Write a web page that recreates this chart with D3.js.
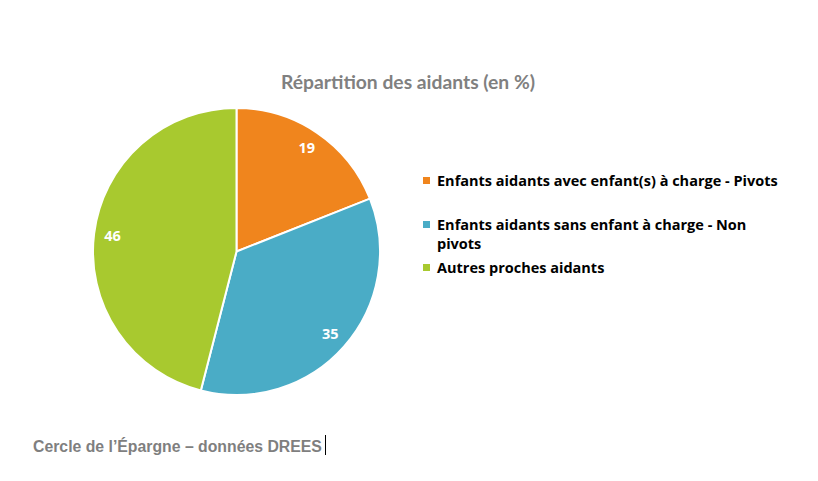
<!DOCTYPE html>
<html>
<head>
<meta charset="utf-8">
<script src="https://cdn.jsdelivr.net/npm/d3@7"></script>
<style>
  body { margin: 0; background: #fff; }
  svg { display: block; }
</style>
</head>
<body>
<svg id="chart" width="818" height="481"></svg>
<script>
const categories = ['Enfants aidants avec enfant(s) à charge - Pivots',
    'Enfants aidants sans enfant à charge - Non pivots',
    'Autres proches aidants']
const values = [19, 35, 46]
const colors = ['#f0851d', '#4aacc6', '#a8c92f']
const legendLines = [['Enfants aidants avec enfant(s) à charge - Pivots'],
    ['Enfants aidants sans enfant à charge - Non', 'pivots'],
    ['Autres proches aidants']]

const svg = d3.select('#chart')
const cx = 236.5
const cy = 251.5
const radius = 143.5

svg.append('text')
    .attr('x', 408)
    .attr('y', 89)
    .attr('text-anchor', 'middle')
    .attr('font-family', 'Lato, sans-serif')
    .attr('font-weight', 'bold')
    .attr('font-size', 19.3)
    .attr('fill', '#808080')
    .text('Répartition des aidants (en %)')

const pie = d3.pie().sort(null).value(d => d)
const arc = d3.arc().innerRadius(0).outerRadius(radius)
const labelArc = d3.arc().innerRadius(125).outerRadius(125)

const g = svg.append('g').attr('transform', `translate(${cx},${cy})`)

const slices = pie(values)

g.selectAll('path')
    .data(slices)
    .enter()
    .append('path')
    .attr('d', arc)
    .attr('fill', (_, i) => colors[i])
    .attr('stroke', '#fff')
    .attr('stroke-width', 2)

g.selectAll('text')
    .data(slices)
    .enter()
    .append('text')
    .attr('transform', d => `translate(${labelArc.centroid(d)})`)
    .attr('text-anchor', 'middle')
    .attr('dy', '0.35em')
    .attr('font-family', '"Open Sans", sans-serif')
    .attr('font-weight', 'bold')
    .attr('font-size', 14.5)
    .attr('fill', '#fff')
    .text(d => d.value)

// legende
const rowY = [181, 225, 268]
const legend = svg.append('g')

const items = legend.selectAll('g')
    .data(categories)
    .enter()
    .append('g')
    .attr('transform', (_, i) => `translate(423,${rowY[i]})`)

items.append('rect')
    .attr('x', 0)
    .attr('y', -4)
    .attr('width', 7)
    .attr('height', 7)
    .attr('fill', (_, i) => colors[i])

items.append('text')
    .attr('x', 14)
    .attr('y', 5)
    .attr('font-family', '"Open Sans", sans-serif')
    .attr('font-weight', 'bold')
    .attr('font-size', 14.5)
    .attr('fill', '#000')
    .selectAll('tspan')
    .data((_, i) => legendLines[i])
    .enter()
    .append('tspan')
    .attr('x', 14)
    .attr('dy', (_, j) => j ? 19 : 0)
    .text(d => d)

svg.append('text')
    .attr('x', 33)
    .attr('y', 452)
    .attr('font-family', '"Liberation Sans", Arial, sans-serif')
    .attr('font-weight', 'bold')
    .attr('font-size', 15.8)
    .attr('fill', '#7f7f7f')
    .text('Cercle de l’Épargne – données DREES')

svg.append('line')
    .attr('x1', 325.5).attr('x2', 325.5)
    .attr('y1', 435).attr('y2', 455)
    .attr('stroke', '#000')
    .attr('stroke-width', 1)
</script>
</body>
</html>
